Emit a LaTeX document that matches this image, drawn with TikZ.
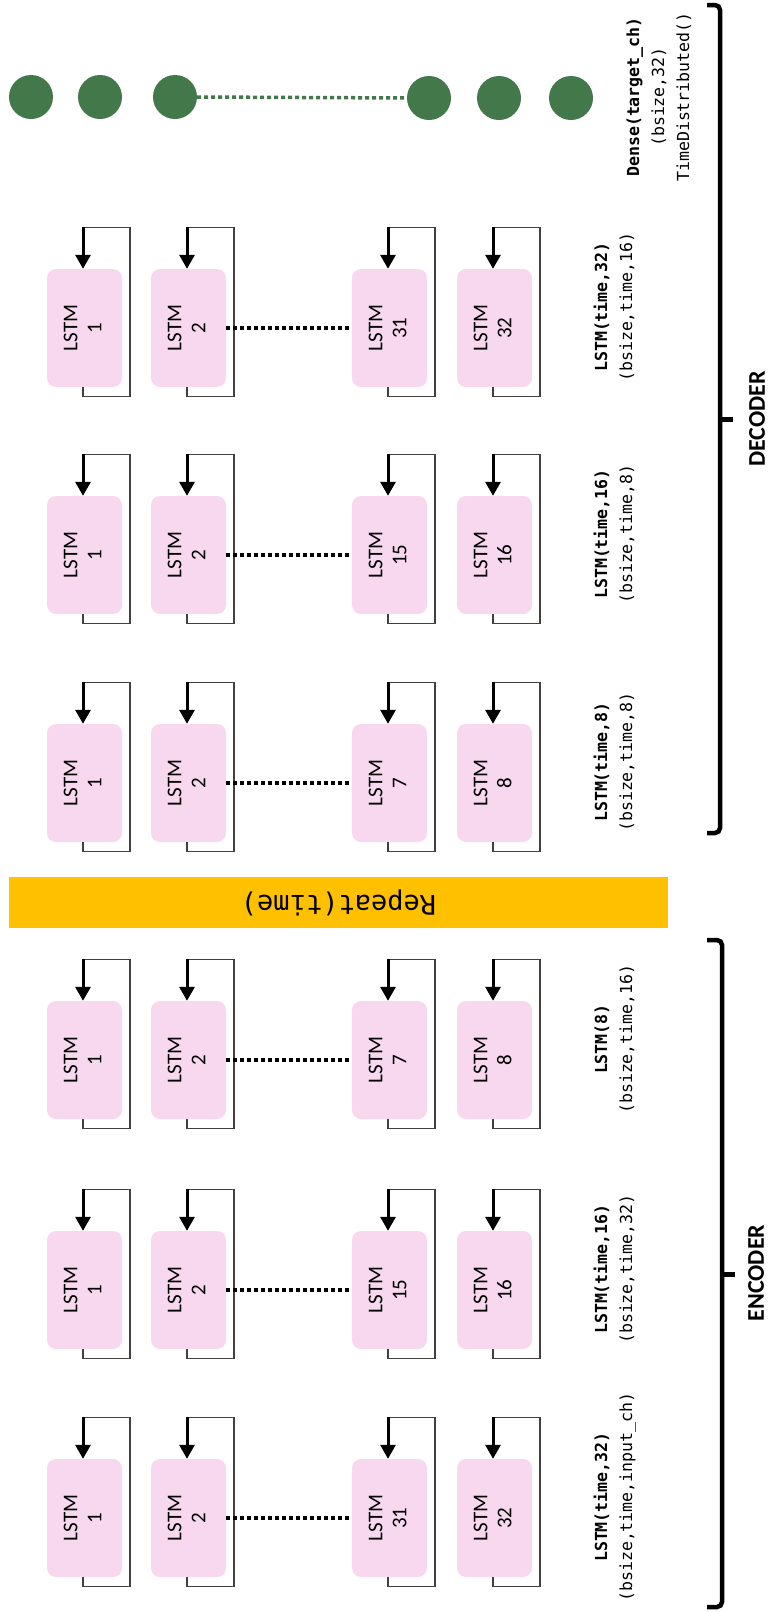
\documentclass[tikz,border=0pt]{standalone}
\usepackage{fontspec}
\usepackage{graphicx}
\usetikzlibrary{arrows.meta}

\newfontfamily\cellfont{Carlito}
\newfontfamily\codefont{DejaVu Sans Mono}

\definecolor{cellpink}{HTML}{F7D8EF}
\definecolor{densegreen}{HTML}{43784A}
\definecolor{repeatgold}{HTML}{FFC000}
\definecolor{loopgray}{HTML}{404040}

\tikzset{
  cell/.style={fill=cellpink, rounded corners=9pt, minimum width=75pt,
    minimum height=118pt, inner sep=0pt,
    font=\cellfont\fontsize{21}{24}\selectfont},
  feedback/.style={draw=loopgray, line width=1.3pt},
  feedarrow/.style={draw=black, line width=3pt,
    -{Triangle[length=14pt,width=15pt]}},
  skipdots/.style={line width=3.5pt, dash pattern=on 4pt off 3pt},
  layerlabel/.style={inner sep=0pt, align=center,
    font=\codefont\fontsize{16.6}{25}\selectfont},
  densecell/.style={circle, fill=densegreen, minimum size=44pt, inner sep=0pt},
  densedots/.style={densegreen, line width=3.5pt, dash pattern=on 4pt off 3pt},
  bracket/.style={line width=4.5pt, rounded corners=5pt},
  bracketlabel/.style={inner sep=0pt, font=\cellfont\bfseries\fontsize{24}{28}\selectfont},
}

% One LSTM layer: #1 name prefix, #2 vertical centre of the cells,
% #3 and #4 the numbers of the last two cells, #5/#6 the two label lines
\newcommand\lstmlayer[6]{%
  \foreach \k/\cx/\n in {a/84.5/1, b/188.5/2, c/389.5/#3, d/494.5/#4} {
    \node[cell] (#1\k) at (\cx,#2)
      {\rotatebox{90}{\begin{tabular}{@{}c@{}}LSTM\\\n\end{tabular}}};
    \draw[feedback] ([xshift=-1.5pt]#1\k.south) -- ++(0,9) -- ++(47,0)
      -- ++(0,-169) -- ++(-47,0) coordinate (#1\k top);
    \draw[feedarrow] (#1\k top) -- ([xshift=-1.5pt]#1\k.north);
  }
  \draw[skipdots] (#1b.east) -- (#1c.west);
  \node[layerlabel] (#1label) at (614.5,#2-21)
    {\rotatebox{90}{\begin{tabular}{@{}c@{}}\textbf{#5}\\#6\end{tabular}}};
}

\begin{document}
\begin{tikzpicture}[x=1pt,y=-1pt]
  \useasboundingbox (0,0) rectangle (768,1612);

  % time-distributed dense output
  \node[densecell] (d1) at (31,97) {};
  \node[densecell] (d2) at (100,97) {};
  \node[densecell] (d3) at (175,97) {};
  \node[densecell] (d4) at (429,98) {};
  \node[densecell] (d5) at (499,98) {};
  \node[densecell] (d6) at (571,98) {};
  \draw[densedots] (d3.east) -- (d4.west);
  \node[layerlabel] (denselabel) at (659,97)
    {\rotatebox{90}{\begin{tabular}{@{}c@{}}\textbf{Dense(target\_ch)}\\(bsize,32)\\TimeDistributed()\end{tabular}}};

  % decoder
  \lstmlayer{dec3}{328}{31}{32}{LSTM(time,32)}{(bsize,time,16)}
  \lstmlayer{dec2}{555}{15}{16}{LSTM(time,16)}{(bsize,time,8)}
  \lstmlayer{dec1}{783}{7}{8}{LSTM(time,8)}{(bsize,time,8)}

  % repeat vector
  \node[fill=repeatgold, minimum width=659pt, minimum height=51pt, inner sep=0pt,
    font=\codefont\fontsize{27}{30}\selectfont] (repeat) at (338.5,902.5)
    {\rotatebox{180}{Repeat(time)}};

  % encoder
  \lstmlayer{enc1}{1060}{7}{8}{LSTM(8)}{(bsize,time,16)}
  \lstmlayer{enc2}{1290}{15}{16}{LSTM(time,16)}{(bsize,time,32)}
  \lstmlayer{enc3}{1518}{31}{32}{LSTM(time,32)}{(bsize,time,input\_ch)}

  % brackets
  \draw[bracket] (707,5) -- (720,5) -- (720,833) -- (707,833);
  \draw[line width=5pt] (720,419) -- (733,419);
  \node[bracketlabel, rotate=90] (declabel) at (757,419) {DECODER};

  \draw[bracket] (707,940) -- (722,940) -- (722,1607) -- (707,1607);
  \draw[line width=5pt] (722,1274) -- (735,1274);
  \node[bracketlabel, rotate=90] (enclabel) at (756,1273) {ENCODER};
\end{tikzpicture}
\end{document}
